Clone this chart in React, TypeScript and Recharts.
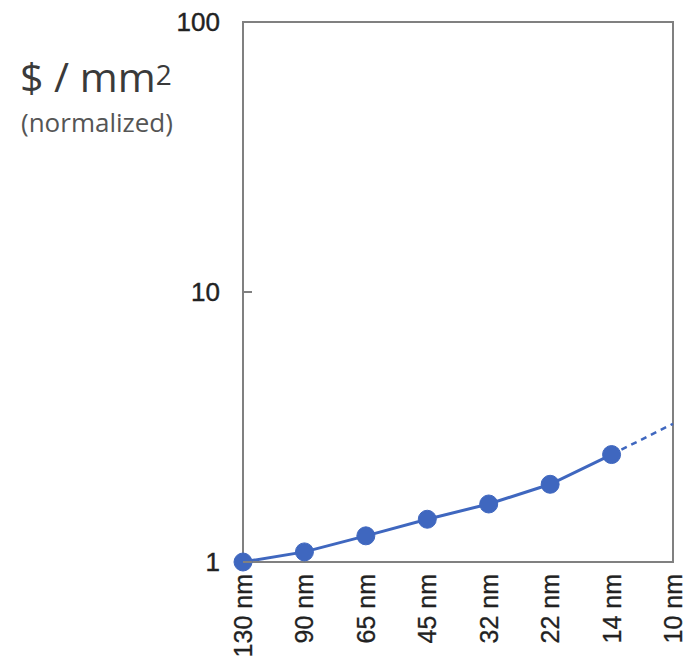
import React from 'react';
import { LineChart, Line, XAxis, YAxis, ReferenceArea } from 'recharts';

// process nodes along the x axis
const nodes = ['130 nm', '90 nm', '65 nm', '45 nm', '32 nm', '22 nm', '14 nm', '10 nm'];
// measured cost per mm2, normalized to 130 nm
const costActual = [1.0, 1.09, 1.25, 1.44, 1.64, 1.94, 2.5, null];
// projected trend (dashed)
const costProjected = [null, null, null, null, null, null, 2.5, 3.25];
const yTicks = [1, 10, 100];

const BLUE = '#3f67bf';
const BORDER = '#808080';

const chartData = nodes.map((n, i) => ({
  node: n,
  actual: costActual[i],
  projected: costProjected[i],
}));

const YTick = (props: any) => {
  const { x, y, payload } = props;
  return (
    <g>
      <line x1={x} y1={y} x2={x + 9} y2={y} stroke={BORDER} strokeWidth={2} />
      <text x={x - 23} y={y} textAnchor="end" dominantBaseline="central" fontSize={26} fill="#222" stroke="#222" strokeWidth={0.4} fontFamily="'Liberation Sans', Arial, sans-serif">
        {payload.value}
      </text>
    </g>
  );
};

const XTick = (props: any) => {
  const { x, y, payload } = props;
  return (
    <text
      x={x}
      y={y + 12}
      transform={`rotate(-90, ${x}, ${y + 12})`}
      textAnchor="end"
      dominantBaseline="central"
      fontSize={25}
      fill="#222"
      stroke="#222"
      strokeWidth={0.3}
      fontFamily="'Liberation Sans', Arial, sans-serif"
    >
      {payload.value}
    </text>
  );
};

const App: React.FC = () => {
  return (
    <div style={{ position: 'absolute', left: 0, top: 0, width: 691, height: 664, background: '#fff' }}>
      <div style={{ position: 'absolute', left: 20, top: 56, fontFamily: 'Open Sans, sans-serif', fontSize: 41, color: '#3a3a3a', lineHeight: 1, whiteSpace: 'nowrap' }}>
        $ / mm<span style={{ fontSize: 28, verticalAlign: 'top', position: 'relative', top: 4 }}>2</span>
      </div>
      <div style={{ position: 'absolute', left: 21, top: 107, fontFamily: 'Open Sans, sans-serif', fontSize: 26, color: '#555', lineHeight: 1.2, whiteSpace: 'nowrap' }}>
        (normalized)
      </div>
      <LineChart width={691} height={664} data={chartData} margin={{ top: 22, right: 18, left: 143, bottom: 0 }}>
        <XAxis dataKey="node" height={102} stroke={BORDER} strokeWidth={2} tickLine={false} tickSize={0} tickMargin={0} tick={<XTick />} interval={0} />
        <YAxis
          scale="log"
          domain={[1, 100]}
          ticks={yTicks}
          width={100}
          stroke={BORDER}
          strokeWidth={2}
          tickLine={false}
          tickSize={0}
          tickMargin={0}
          tick={<YTick />}
        />
        <ReferenceArea x1={nodes[0]} x2={nodes[nodes.length - 1]} y1={1} y2={100} fill="none" stroke={BORDER} strokeWidth={2} fillOpacity={0} />
        <Line
          dataKey="projected"
          stroke={BLUE}
          strokeWidth={2.5}
          strokeDasharray="6 5"
          dot={false}
          activeDot={false}
          connectNulls={false}
          isAnimationActive={false}
        />
        <Line
          dataKey="actual"
          stroke={BLUE}
          strokeWidth={3}
          dot={{ r: 9, fill: BLUE, stroke: BLUE, strokeWidth: 1 }}
          activeDot={false}
          connectNulls={false}
          isAnimationActive={false}
        />
      </LineChart>
    </div>
  );
};

export default App;
